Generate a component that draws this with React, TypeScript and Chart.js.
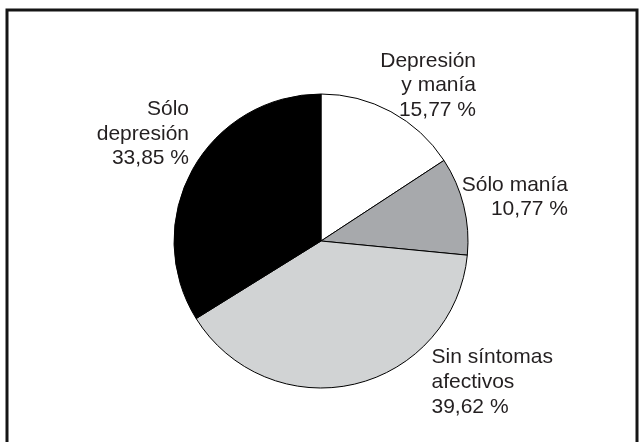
import { useEffect, useRef } from "react";
import { Chart, registerables } from "chart.js";

Chart.register(...registerables);

// ---- data ----
const categoryLines: string[][] = [
  ["Depresión", "y manía"],
  ["Sólo manía"],
  ["Sin síntomas", "afectivos"],
  ["Sólo", "depresión"],
];
const values: number[] = [15.77, 10.77, 39.62, 33.85];
const valueLabels: string[] = ["15,77 %", "10,77 %", "39,62 %", "33,85 %"];
const sliceColors: string[] = ["#ffffff", "#a7a9ac", "#d1d3d4", "#000000"];

// ---- label layout (offsets relative to the pie centre) ----
const labelAnchors = [
  { dx: 155, dy: -174.5, align: "right" as CanvasTextAlign },
  { dx: 247, dy: -50.3, align: "right" as CanvasTextAlign },
  { dx: 110.5, dy: 122.3, align: "left" as CanvasTextAlign },
  { dx: -132, dy: -126, align: "right" as CanvasTextAlign },
];
const LINE_H = 24.6;
const FONT = '21px "Liberation Sans", Arial, sans-serif';
const TEXT_COLOR = "#231f20";

const framePlugin = {
  id: "frame",
  beforeDraw(chart: any) {
    const ctx = chart.ctx as CanvasRenderingContext2D;
    ctx.save();
    ctx.fillStyle = "#ffffff";
    ctx.fillRect(0, 0, chart.width, chart.height);
    ctx.strokeStyle = "#151515";
    ctx.lineWidth = 3;
    ctx.strokeRect(7, 10, 630, 460);
    ctx.restore();
  },
};

const labelPlugin = {
  id: "sliceLabels",
  afterDraw(chart: any) {
    const meta = chart.getDatasetMeta(0);
    const arc0 = meta.data[0];
    if (!arc0) return;
    const cx = arc0.x;
    const cy = arc0.y;
    const ctx = chart.ctx as CanvasRenderingContext2D;
    ctx.save();
    ctx.font = FONT;
    ctx.fillStyle = TEXT_COLOR;
    ctx.textBaseline = "alphabetic";
    categoryLines.forEach((lines, i) => {
      const a = labelAnchors[i];
      ctx.textAlign = a.align;
      const all = [...lines, valueLabels[i]];
      all.forEach((t, k) => {
        ctx.fillText(t, cx + a.dx, cy + a.dy + k * LINE_H);
      });
    });
    ctx.restore();
  },
};

export default function App() {
  const ref = useRef<HTMLCanvasElement | null>(null);
  useEffect(() => {
    if (!ref.current) return;
    const chart = new Chart(ref.current, {
      type: "pie",
      data: {
        labels: categoryLines.map((l) => l.join(" ")),
        datasets: [
          {
            data: values,
            backgroundColor: sliceColors,
            borderColor: "#000000",
            borderWidth: 1,
            hoverBorderWidth: 1,
            hoverOffset: 0,
          },
        ],
      },
      options: {
        responsive: false,
        animation: false,
        layout: { padding: { top: 93.5, bottom: 53.5, left: 121, right: 120 } },
        plugins: {
          legend: { display: false },
          tooltip: { enabled: false },
        },
      },
      plugins: [framePlugin, labelPlugin],
    });
    return () => chart.destroy();
  }, []);
  return (
    <div
      style={{
        position: "fixed",
        left: 0,
        top: 0,
        width: 641,
        height: 442,
        background: "#ffffff",
      }}
    >
      <canvas ref={ref} width={641} height={442} style={{ width: 641, height: 442, display: "block" }} />
    </div>
  );
}
